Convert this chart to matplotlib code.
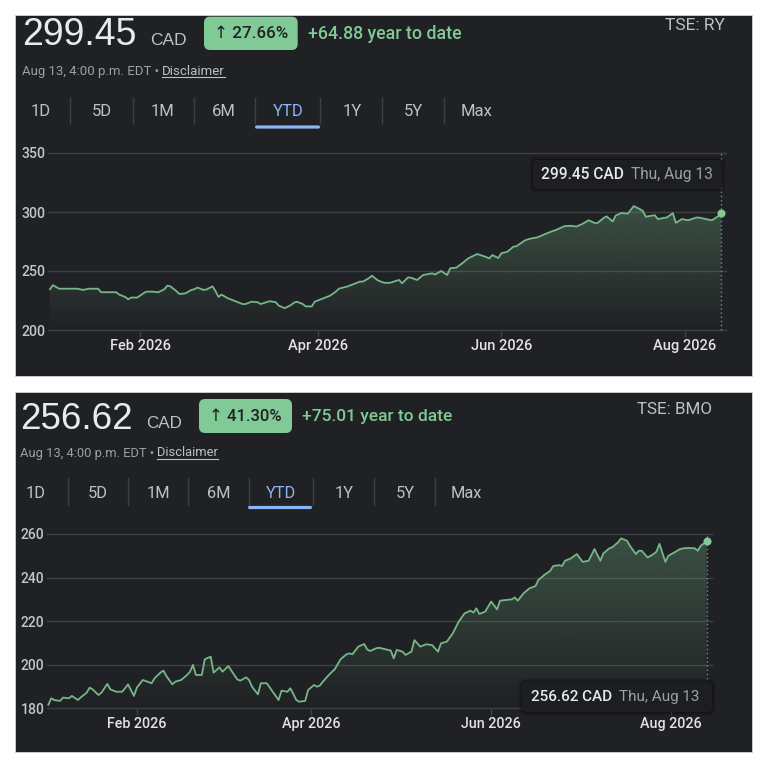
import numpy as np
import matplotlib
matplotlib.use('Agg')
import matplotlib.pyplot as plt
import matplotlib.dates as mdates
import matplotlib.colors as mcolors
from matplotlib.patches import Rectangle, FancyBboxPatch
from matplotlib.lines import Line2D

# ---------------- data ----------------
start_date = '2026-01-02'
currency = 'CAD'
quote_time = 'Aug 13, 4:00 p.m. EDT'
tooltip_date = 'Thu, Aug 13'
tabs = ['1D', '5D', '1M', '6M', 'YTD', '1Y', '5Y', 'Max']

ry_ticker = 'TSE: RY'
ry_day = [0, 1, 3, 9, 11, 13, 16, 17, 22, 23,
          25, 26, 27, 29, 31, 32, 34, 36, 38, 39,
          40, 42, 43, 45, 47, 48, 49, 51, 52, 54,
          55, 56, 57, 59, 60, 62, 64, 65, 67, 69,
          70, 71, 73, 75, 76, 78, 80, 81, 82, 84,
          85, 87, 88, 90, 91, 93, 95, 96, 99, 101,
          103, 104, 106, 107, 109, 111, 113, 116, 117, 119,
          120, 122, 124, 127, 128, 129, 130, 132, 133, 135,
          137, 139, 140, 142, 144, 146, 147, 149, 150, 152,
          154, 155, 158, 160, 162, 163, 165, 167, 168, 171,
          173, 175, 177, 179, 181, 182, 184, 185, 187, 188,
          190, 192, 194, 196, 197, 198, 201, 202, 205, 207,
          208, 210, 212, 215, 216, 218, 220, 222, 223]
ry_close = [234.57, 238, 235, 235, 234, 235, 235, 232, 232, 230,
            228, 226, 227.5, 227.5, 231, 232.5, 232.5, 232, 234.5, 237.6,
            237, 233, 230.5, 231, 234, 234.5, 236, 234, 234.3, 237,
            233, 228, 230, 227, 226, 224, 222, 222, 224, 223.5,
            222, 222.8, 224.4, 223.6, 220.7, 218.5, 221, 223, 224, 222,
            220, 220, 224, 226, 227, 229, 232.5, 235, 237, 239,
            241, 241, 244, 246, 242, 240, 240, 242.4, 239.6, 244.6,
            244.3, 242.4, 246.6, 248, 247, 248.6, 250, 246.6, 252.3, 252.8,
            256.5, 260.7, 262, 264.4, 262.7, 260.7, 263.5, 261, 265, 266.3,
            270.6, 271, 276.2, 277.6, 278.5, 279.6, 281.8, 283.8, 284.6, 288,
            288.3, 287.7, 290, 293, 290.7, 290.7, 295, 296.3, 292, 297,
            299.2, 298.6, 305, 302.5, 301, 296, 297.3, 294, 295.4, 299,
            290.8, 294, 293, 295.4, 295.1, 294, 293, 296.3, 299.45]
ry_yticks = [200, 250, 300, 350]

bmo_ticker = 'TSE: BMO'
bmo_day = [0, 1, 2, 4, 5, 7, 8, 10, 11, 13,
           14, 15, 17, 18, 20, 21, 23, 25, 26, 27,
           29, 30, 32, 33, 35, 36, 38, 39, 40, 42,
           43, 45, 47, 48, 49, 50, 52, 53, 55, 56,
           58, 59, 61, 62, 64, 65, 67, 68, 69, 71,
           72, 74, 75, 76, 78, 79, 81, 82, 84, 85,
           87, 88, 90, 91, 92, 93, 95, 97, 98, 99,
           101, 102, 103, 105, 107, 108, 109, 111, 112, 116,
           117, 118, 120, 121, 123, 124, 126, 128, 130, 132,
           133, 135, 137, 139, 141, 143, 144, 145, 146, 148,
           150, 152, 153, 155, 157, 158, 159, 161, 163, 165,
           166, 168, 170, 171, 173, 174, 175, 177, 179, 181,
           183, 185, 187, 188, 190, 191, 193, 194, 196, 197,
           199, 200, 201, 203, 205, 206, 207, 209, 210, 212,
           214, 215, 217, 219, 220, 221, 223]
bmo_close = [181.61, 184.6, 183.8, 183.4, 184.9, 184.6, 185.7, 183.8, 185, 187.2,
             189.5, 188.7, 186.1, 187.2, 191.2, 188.7, 187.6, 187.6, 189.2, 191,
             185.7, 189.5, 193, 192.5, 191.5, 193.8, 196.4, 197.3, 194.8, 191,
             192.2, 193, 195.3, 196.8, 199.9, 195.3, 195.3, 202.5, 203.7, 196.4,
             198.8, 196.8, 199.4, 197.3, 193.3, 192.7, 194.2, 193, 189.9, 186.4,
             191.5, 191.5, 189.6, 187.6, 183.8, 188.1, 187.6, 189.2, 183.8, 183,
             183.4, 188.4, 190.7, 189.9, 190.5, 192.2, 195.3, 197.9, 200.2, 202.5,
             204.8, 205.2, 204.8, 208.3, 209.5, 207, 206.3, 207.5, 207.8, 206.5,
             202.9, 206.8, 206, 204.5, 206, 211.3, 208.3, 209.4, 209, 206,
             209.8, 210.6, 214.4, 219.8, 223.6, 224.8, 223.9, 225.9, 223.3, 224.4,
             229, 225.4, 229.4, 229.7, 230, 230.9, 229.4, 232.8, 235.1, 236.1,
             238.9, 241.2, 243.1, 245.3, 245.7, 245.3, 247.7, 248.8, 250.8, 247.2,
             247.7, 253.1, 247.7, 251.1, 253.4, 253.9, 256.2, 258, 256.9, 254.6,
             250.8, 252.3, 252.3, 249.2, 250.8, 251.9, 255.5, 247.2, 250, 251.5,
             253.1, 253.4, 253.6, 253.4, 252.3, 254.6, 256.62]
bmo_yticks = [180, 200, 220, 240, 260]

# ---------------- style ----------------
plt.rcParams['font.family'] = ['Roboto', 'DejaVu Sans']
PRICE_FONT = ['Liberation Sans', 'DejaVu Sans']
BG = '#202124'
GRID = '#3c4043'
GREEN = '#81c995'
LINE = '#76b787'
BLUE = '#8ab4f8'

W = H = 768
fig = plt.figure(figsize=(W / 100, H / 100), dpi=100, facecolor='white')
FT = fig.transFigure
renderer = fig.canvas.get_renderer()


def X(x):
    return x / W


def Y(y):
    return 1 - y / H


def rbox(x0, y0, x1, y1, r, **kw):
    p = FancyBboxPatch((X(x0), Y(y1)), (x1 - x0) / W, (y1 - y0) / H,
                       boxstyle=f'round,pad=0,rounding_size={r / W}',
                       transform=FT, **kw)
    fig.patches.append(p)
    return p


def draw_panel(L, days, vals, yticks, ticker):
    s = L['s']
    x0, y0, x1, y1 = L['box']
    fig.patches.append(Rectangle((X(x0), Y(y1)), (x1 - x0) / W, (y1 - y0) / H,
                                 transform=FT, fc=BG, ec='#d4d4d4', lw=0.6, zorder=-10))
    first, last = vals[0], vals[-1]
    chg = last - first
    pct = chg / first * 100

    # header
    fig.text(X(L['price'][0]), Y(L['price'][1]), f'{last:.2f}', fontsize=27 * s,
             color='#e8eaed', va='baseline', ha='left', family=PRICE_FONT)
    fig.text(X(L['cad'][0]), Y(L['cad'][1]), currency, fontsize=12.5 * s,
             color='#bdc1c6', va='baseline', ha='left', family=PRICE_FONT)
    bx0, by0, bx1, by1 = L['badge']
    rbox(bx0, by0, bx1, by1, 6, fc=GREEN, ec='none', zorder=2)
    fig.text(X((bx0 + bx1) / 2), Y((by0 + by1) / 2 + 0.5), f'\u2191 {pct:.2f}%',
             ha='center', va='center', fontsize=12.2 * s, color='#202124',
             weight='medium', zorder=3)
    fig.text(X(L['ytd'][0]), Y(L['ytd'][1]), f'+{chg:.2f} year to date',
             ha='left', va='baseline', fontsize=12.8 * s, color=GREEN, weight='medium')
    fig.text(X(L['ticker'][0]), Y(L['ticker'][1]), ticker, ha='right', va='center',
             fontsize=12.5 * s, color='#bdc1c6')

    t1 = fig.text(X(L['sub'][0]), Y(L['sub'][1]), quote_time + ' \u2022 ',
                  ha='left', va='baseline', fontsize=9.5 * s, color='#9aa0a6')
    bb = t1.get_window_extent(renderer)
    t2 = fig.text(bb.x1 / W, Y(L['sub'][1]), 'Disclaimer', ha='left', va='baseline',
                  fontsize=9.5 * s, color='#bdc1c6')
    bb2 = t2.get_window_extent(renderer)
    fig.add_artist(Line2D([bb2.x0 / W, bb2.x1 / W], [Y(L['sub'][1] + 2)] * 2,
                          transform=FT, color='#bdc1c6', lw=0.8))

    # tabs
    for tx, lab in zip(L['tabs_x'], tabs):
        fig.text(X(tx), Y(L['tabs_y']), lab, ha='center', va='center',
                 fontsize=12 * s, color=BLUE if lab == 'YTD' else '#bdc1c6')
    for sx in L['seps']:
        fig.add_artist(Line2D([X(sx)] * 2, [Y(L['sep_y'][0]), Y(L['sep_y'][1])],
                              transform=FT, color=GRID, lw=1))
    ux0, ux1, uy = L['uline']
    rbox(ux0, uy - 1.6, ux1, uy + 1.6, 1.6, fc=BLUE, ec='none', zorder=2)

    # chart
    a0, b0, a1, b1 = L['axes']
    ax = fig.add_axes([X(a0), Y(b1), (a1 - a0) / W, (b1 - b0) / H])
    ax.set_facecolor('none')
    for sp in ax.spines.values():
        sp.set_visible(False)
    dates = np.datetime64(start_date) + np.array(days).astype('timedelta64[D]')
    num = mdates.date2num(dates)
    ax.plot(dates, vals, color=LINE, lw=1.3, zorder=3, solid_joinstyle='round')

    ylo, yhi = yticks[0], yticks[-1]
    poly = ax.fill_between(num, vals, ylo, color='none', lw=0)
    grad = np.zeros((256, 1, 4))
    grad[..., :3] = mcolors.to_rgb(GREEN)
    grad[:, 0, 3] = np.linspace(0, 0.28, 256)
    im = ax.imshow(grad, extent=[num[0], num[-1], ylo, max(vals)], origin='lower',
                   aspect='auto', zorder=1, interpolation='bilinear')
    im.set_clip_path(poly.get_paths()[0], ax.transData)

    for t in yticks:
        ax.axhline(t, color=GRID, lw=1, zorder=0.5, clip_on=False)
    ax.plot([dates[-1]] * 2, [ylo, yhi], ls=(0, (1, 2)), color='#80868b', lw=1,
            clip_on=False, zorder=2)
    ax.plot([dates[-1]], [vals[-1]], 'o', ms=5.8, color=GREEN, mec='none',
            clip_on=False, zorder=5)

    ax.set_xlim(num[0] - L['pad'][0], num[-1] + L['pad'][1])
    ax.set_ylim(ylo, yhi)
    ax.set_yticks(yticks)
    ax.tick_params(axis='y', length=0, pad=19, labelsize=10.2 * s, labelcolor='#c4c7c5')
    for lb in ax.get_yticklabels():
        lb.set_ha('left')
        lb.set_fontweight('medium')
    loc = mdates.MonthLocator(bymonth=[2, 4, 6, 8])
    xt = [t for t in loc.tick_values(mdates.num2date(num[0]), mdates.num2date(num[-1] + 2))
          if num[0] <= t <= num[-1] + 2]
    ax.set_xticks(xt, [mdates.num2date(t).strftime('%b %Y') for t in xt],
                  fontweight='medium')
    ax.tick_params(axis='x', length=5, width=1, color=GRID, pad=1.5,
                   labelsize=10.5 * s, labelcolor='#e3e3e3')

    # tooltip
    tx0, ty0, tx1, ty1 = L['tip']
    for k, a in [(4, 0.08), (2.5, 0.12), (1.2, 0.2)]:
        rbox(tx0 - k, ty0 - k, tx1 + k, ty1 + k, 4 + k, fc='black', alpha=a,
             ec='none', zorder=5)
    rbox(tx0, ty0, tx1, ty1, 4, fc='#1d1e21', ec='none', zorder=6)
    ty = (ty0 + ty1) / 2
    fig.text(X(L['tip_l']), Y(ty), f'{vals[-1]:.2f} {currency}', ha='left',
             va='center', fontsize=11.2 * s, color='#e8eaed', weight='medium', zorder=7)
    fig.text(X(L['tip_r']), Y(ty), tooltip_date, ha='right', va='center',
             fontsize=11.2 * s, color='#9aa0a6', zorder=7)


top = dict(s=1.0, box=(15, 15, 752, 376), price=(22.5, 45), cad=(150.5, 45),
           badge=(204, 16.7, 297.7, 50), ytd=(308, 39.3), ticker=(725, 25),
           sub=(22, 75), tabs_x=[40.8, 101.7, 163, 224, 288.5, 352.5, 413, 476.7],
           tabs_y=111.7, seps=[70, 132.7, 194, 255, 320, 382, 444], sep_y=(98, 123),
           uline=(255, 320, 127), axes=(48, 153, 726, 330), pad=(0.66, 1.66),
           tip=(533, 160, 722, 189), tip_l=541, tip_r=713)
bottom = dict(s=0.98, box=(15, 392, 752, 752), price=(20.5, 429), cad=(146, 428),
              badge=(199, 399, 292, 433), ytd=(302, 421.5), ticker=(712, 409),
              sub=(20, 456.5), tabs_x=[35.8, 97.5, 158, 218.5, 281, 344, 405, 466.5],
              tabs_y=494, seps=[68, 128, 188, 249, 313, 374, 435], sep_y=(478, 505),
              uline=(248, 312, 507.5), axes=(47, 534, 712, 708.3), pad=(0.44, 1.8),
              tip=(522, 682, 712, 712), tip_l=531, tip_r=699)

draw_panel(top, ry_day, ry_close, ry_yticks, ry_ticker)
draw_panel(bottom, bmo_day, bmo_close, bmo_yticks, bmo_ticker)

fig.savefig('out.png', dpi=100, facecolor='white')
